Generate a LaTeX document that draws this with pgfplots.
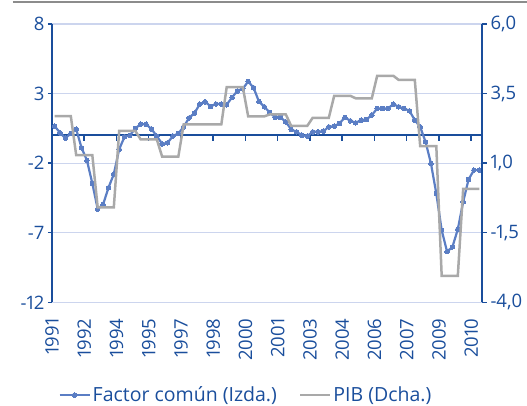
\documentclass[border=0pt]{standalone}
\usepackage{fontspec}
\setmainfont{Open Sans}[Numbers=Proportional]
\usepackage{pgfplots}
\usepackage{pgfplotstable}
\pgfplotsset{compat=1.18}
\definecolor{axblue}{HTML}{1A4E9C}
\definecolor{serblue}{HTML}{5B7EC4}
\definecolor{pibgray}{HTML}{A9A9A9}
\definecolor{gridc}{HTML}{CCD5EE}

\pgfplotstableread{
k v
0 0.66
1 0.18
2 -0.20
3 0.13
4 0.45
5 -0.90
6 -1.80
7 -3.45
8 -5.30
9 -4.98
10 -3.77
11 -2.79
12 -1.00
13 -0.10
14 0.00
15 0.50
16 0.80
17 0.80
18 0.45
19 -0.05
20 -0.62
21 -0.54
22 -0.05
23 0.13
24 0.61
25 1.25
26 1.60
27 2.24
28 2.41
29 2.08
30 2.25
31 2.25
32 2.20
33 2.73
34 3.19
35 3.35
36 3.87
37 3.42
38 2.43
39 2.05
40 1.64
41 1.30
42 1.29
43 0.97
44 0.42
45 0.25
46 0.01
47 -0.06
48 0.25
49 0.25
50 0.30
51 0.61
52 0.66
53 0.86
54 1.29
55 1.04
56 0.90
57 1.09
58 1.14
59 1.45
60 1.93
61 1.93
62 1.93
63 2.24
64 2.05
65 1.93
66 1.76
67 1.09
68 0.61
69 -0.47
70 -2.02
71 -4.18
72 -6.82
73 -8.36
74 -8.02
75 -6.75
76 -4.78
77 -3.17
78 -2.50
79 -2.50
}\factor

\pgfplotstableread{
k r
0 2.69
1 2.69
2 2.69
3 2.69
4 1.29
5 1.29
6 1.29
7 1.29
8 -0.59
9 -0.59
10 -0.59
11 -0.59
12 2.16
13 2.16
14 2.16
15 2.16
16 1.85
17 1.85
18 1.85
19 1.85
20 1.23
21 1.23
22 1.23
23 1.23
24 2.39
25 2.39
26 2.39
27 2.39
28 2.39
29 2.39
30 2.39
31 2.39
32 3.73
33 3.73
34 3.73
35 3.73
36 2.68
37 2.68
38 2.68
39 2.68
40 2.75
41 2.75
42 2.75
43 2.75
44 2.34
45 2.34
46 2.34
47 2.34
48 2.63
49 2.63
50 2.63
51 2.63
52 3.42
53 3.42
54 3.42
55 3.42
56 3.33
57 3.33
58 3.33
59 3.33
60 4.14
61 4.14
62 4.14
63 4.14
64 3.99
65 3.99
66 3.99
67 3.99
68 1.61
69 1.61
70 1.61
71 1.61
72 -3.05
73 -3.05
74 -3.05
75 -3.05
76 0.08
77 0.08
78 0.08
79 0.08
}\pib

\pgfplotsset{every tick label/.append style={font=\fontsize{18.5}{18.5}\selectfont, text=axblue}}

\begin{document}
\begin{tikzpicture}
\path[use as bounding box] (-52pt,-102.7pt) rectangle (475pt,302.3pt);
\draw[black!45, line width=1.5pt] (-39pt,300.5pt) -- (475pt,300.5pt);
\begin{axis}[
  at={(0pt,0pt)}, anchor=south west,
  scale only axis, width=430pt, height=278.3pt,
  xmin=-0.5, xmax=79.5, ymin=-12, ymax=8,
  axis y line*=left, axis x line*=bottom,
  x axis line style={draw=none},
  y axis line style={axblue, line width=2pt},
  xtick={-0.5,5.5,11.5,17.5,23.5,29.5,35.5,41.5,47.5,53.5,59.5,65.5,71.5,77.5},
  xticklabels={1991,1992,1994,1995,1997,1998,2000,2001,2003,2004,2006,2007,2009,2010},
  xtick style={draw=none},
  xticklabel style={rotate=90, anchor=east, inner sep=0pt},
  xticklabel shift=12pt,
  ytick={-12,-7,-2,3,8}, yticklabels={-12,-7,-2,3,8},
  ytick style={axblue, line width=1.5pt},
  tick align=outside, major tick length=4pt,
  ymajorgrids, grid style={gridc, line width=1.2pt},
  clip=false,
  legend image code/.code={\draw[mark repeat=2,mark phase=2,#1] plot coordinates {(0pt,0pt) (15pt,0pt) (30pt,0pt)};},
  legend style={at={(0.451,-0.333)}, anchor=center, draw=none, fill=none,
    legend columns=2, font=\fontsize{19.5}{19.5}\selectfont, text=axblue,
    /tikz/every even column/.append style={column sep=20pt},
    inner sep=0pt},
]
\draw[axblue, line width=2pt] (axis cs:-0.5,0) -- (axis cs:79.5,0);
\pgfplotsinvokeforeach{5.5,11.5,17.5,23.5,29.5,35.5,41.5,47.5,53.5,59.5,65.5,71.5,77.5}{
  \draw[axblue, line width=1.5pt] (axis cs:#1,0) -- ([yshift=-6pt]axis cs:#1,0);
}
\addplot[serblue, line width=2.2pt, mark=*, mark size=2.3pt,
  mark options={fill=serblue, draw=serblue, line width=0pt}] table[x=k,y=v]{\factor};
\addlegendentry{Factor común (Izda.)}
\addlegendimage{pibgray, line width=2.5pt}
\addlegendentry{PIB (Dcha.)}
\end{axis}
\begin{axis}[
  at={(0pt,0pt)}, anchor=south west,
  scale only axis, width=430pt, height=278.3pt,
  xmin=-0.5, xmax=79.5, ymin=-4, ymax=6,
  axis y line*=right, axis x line=none,
  y axis line style={axblue, line width=2pt},
  ytick={-4,-1.5,1,3.5,6}, yticklabels={{-4,0},{-1,5},{1,0},{3,5},{6,0}},
  ytick style={axblue, line width=1.5pt},
  tick align=outside, major tick length=5pt,
  clip=false,
]
\addplot[pibgray, line width=2.5pt] table[x=k,y=r]{\pib};
\end{axis}
\end{tikzpicture}
\end{document}
